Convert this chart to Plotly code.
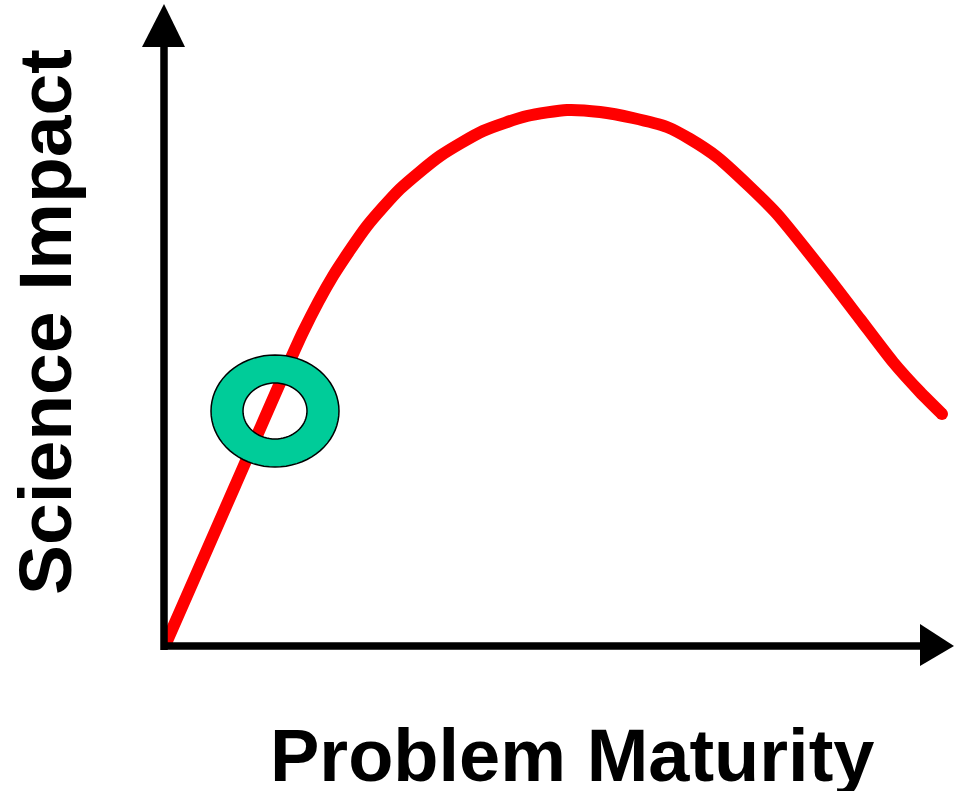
import numpy as np
import plotly.graph_objects as go

# curve (maturity, impact)
maturity = [3, 71, 139, 169, 203, 236, 276, 319, 363, 403, 436, 469, 503, 526, 553, 586, 613, 663, 696, 729, 756, 778]
impact = [5, 160, 314, 370, 420, 457, 490, 515, 530, 536, 534, 528, 519, 507, 489, 459, 432, 370, 327, 284, 254, 232]

# the ring marker
ring_center = (111, 235)
ring_outer = (64, 56)
ring_inner = (32, 28)

x_title = "Problem Maturity"
y_title = "Science Impact"


def ellipse(cx, cy, rx, ry, reverse=False, n=72):
    t = np.linspace(0, 2 * np.pi, n, endpoint=False)
    if reverse:
        t = t[::-1]
    pts = [f"{cx + rx * np.cos(a):.2f},{cy + ry * np.sin(a):.2f}" for a in t]
    return "M" + " L".join(pts) + " Z"


fig = go.Figure()

fig.add_trace(
    go.Scatter(
        x=maturity,
        y=impact,
        mode="lines",
        line=dict(color="#ff0000", width=12, shape="spline", smoothing=0.6),
        showlegend=False,
        hoverinfo="skip",
    )
)
# rounded line ends
fig.add_trace(
    go.Scatter(
        x=[maturity[0], maturity[-1]],
        y=[impact[0], impact[-1]],
        mode="markers",
        marker=dict(color="#ff0000", size=12),
        showlegend=False,
        hoverinfo="skip",
    )
)

# axes drawn as arrows
fig.add_shape(type="line", x0=0, y0=-4, x1=0, y1=600, line=dict(color="black", width=7.5))
fig.add_shape(type="path", path="M -22,599 L 21,599 L 0,642 Z", fillcolor="black", line=dict(width=0))
fig.add_shape(type="line", x0=-3, y0=0, x1=757, y1=0, line=dict(color="black", width=7.5))
fig.add_shape(type="path", path="M 756,22 L 756,-20 L 790,0 Z", fillcolor="black", line=dict(width=0))

# ring with a hole
cx, cy = ring_center
ring_path = ellipse(cx, cy, *ring_outer) + " " + ellipse(cx, cy, *ring_inner, reverse=True)
fig.add_shape(
    type="path",
    path=ring_path,
    fillcolor="#00cc99",
    fillrule="evenodd",
    line=dict(color="black", width=1.5),
    layer="above",
)

fig.add_annotation(
    x=-119, y=324, text=f"<b>{y_title}</b>",
    showarrow=False, textangle=-90, font=dict(family="Liberation Sans, Arial", size=75, color="black"),
    xanchor="center", yanchor="middle",
)
fig.add_annotation(
    x=408, y=-109, text=f"<b>{x_title}</b>",
    showarrow=False, font=dict(family="Liberation Sans, Arial", size=74, color="black"),
    xanchor="center", yanchor="middle",
)

fig.update_layout(
    width=954,
    height=791,
    margin=dict(l=0, r=0, t=0, b=0),
    plot_bgcolor="white",
    paper_bgcolor="white",
    xaxis=dict(range=[-164, 790], visible=False, fixedrange=True),
    yaxis=dict(range=[-145, 646], visible=False, fixedrange=True),
)

fig.write_html(
    "out.html",
    config={"displayModeBar": False},
    post_script="document.body.style.margin='0px';",
)
